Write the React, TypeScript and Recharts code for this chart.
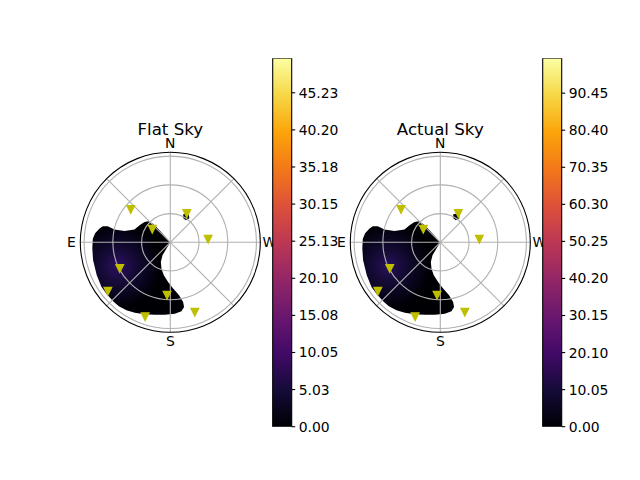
import React from 'react';
import {
  RadarChart,
  Radar,
  PolarGrid,
  PolarAngleAxis,
  PolarRadiusAxis,
  BarChart,
  Bar,
  XAxis,
  YAxis,
} from 'recharts';

// ---- data ----
const compassTicks = [0, 45, 90, 135, 180, 225, 270, 315];
const compassLabels: Record<number, string> = { 0: 'N', 90: 'E', 180: 'S', 270: 'W' };
const zenithRings = [30, 60, 90];
const zenithMax = 94;

// outline of the dark sky region (azimuth deg, zenith deg)
const skyRegion = [
  { az: 148.9, zen: 7.7 }, { az: 149.0, zen: 15.8 }, { az: 154.3, zen: 22.8 },
  { az: 161.5, zen: 29.0 }, { az: 168.9, zen: 35.1 }, { az: 176.8, zen: 41.5 },
  { az: 183.5, zen: 48.4 }, { az: 189.4, zen: 56.1 }, { az: 192.1, zen: 63.8 },
  { az: 192.0, zen: 69.1 }, { az: 189.2, zen: 73.0 }, { az: 183.6, zen: 74.8 },
  { az: 175.7, zen: 75.9 }, { az: 167.9, zen: 77.4 }, { az: 160.5, zen: 79.8 },
  { az: 153.3, zen: 82.4 }, { az: 147.2, zen: 84.5 }, { az: 141.2, zen: 85.8 },
  { az: 135.9, zen: 85.8 }, { az: 129.3, zen: 85.7 }, { az: 123.0, zen: 85.7 },
  { az: 114.2, zen: 84.2 }, { az: 103.1, zen: 82.8 }, { az: 94.4, zen: 81.7 },
  { az: 87.3, zen: 81.0 }, { az: 83.2, zen: 79.1 }, { az: 79.0, zen: 75.3 },
  { az: 76.7, zen: 72.4 }, { az: 75.6, zen: 67.4 }, { az: 77.2, zen: 59.8 },
  { az: 76.1, zen: 49.3 }, { az: 70.5, zen: 39.7 }, { az: 61.1, zen: 36.7 },
  { az: 51.8, zen: 34.3 }, { az: 46.1, zen: 31.6 }, { az: 43.1, zen: 26.7 },
  { az: 42.0, zen: 21.5 }, { az: 42.0, zen: 11.2 }, { az: 90.0, zen: 0 },
];

// small dark speck near one star
const skySpeck = [
  { az: 335.1, zen: 32.2 }, { az: 327.5, zen: 35.9 }, { az: 321.6, zen: 32.0 },
  { az: 324.8, zen: 28.1 }, { az: 331.6, zen: 28.5 },
];

const flatSkyStars = [
  { az: 50.4, zen: 53.6 }, { az: 330.1, zen: 34.6 }, { az: 54.2, zen: 23.2 },
  { az: 274.5, zen: 39.6 }, { az: 117.5, zen: 59.5 }, { az: 128.1, zen: 82.9 },
  { az: 176.5, zen: 55.5 }, { az: 161.3, zen: 82.1 }, { az: 199.3, zen: 77.5 },
];

const actualSkyStars = [
  { az: 50.2, zen: 53.4 }, { az: 327.9, zen: 35.4 }, { az: 52.6, zen: 22.4 },
  { az: 274.4, zen: 40.9 }, { az: 117.5, zen: 59.5 }, { az: 128.1, zen: 82.9 },
  { az: 176.5, zen: 55.5 }, { az: 161.3, zen: 82.1 }, { az: 199.3, zen: 77.5 },
];

const flatCbTicks = [0, 5.026, 10.051, 15.077, 20.102, 25.128, 30.154, 35.179, 40.205, 45.23];
const flatCbMax = 49.9;
const actualCbTicks = [0, 10.05, 20.1, 30.15, 40.2, 50.25, 60.3, 70.35, 80.4, 90.45];
const actualCbMax = 99.9;

const infernoStops = [
  '#000004', '#160b39', '#420a68', '#6a176e', '#932667', '#bc3754',
  '#dd513a', '#f37819', '#fca50a', '#f6d746', '#fcffa4',
];

// ---- styling ----
const FONT = 'DejaVu Sans';
const W = 640;
const H = 480;
const R = 90;

const layer: React.CSSProperties = { position: 'absolute', left: 0, top: 0, width: W, height: H };

const StarMarker = (props: any) => {
  const { cx, cy } = props;
  if (cx == null || cy == null || isNaN(cx) || isNaN(cy)) return null;
  const h = 3.9;
  return (
    <polygon
      points={`${cx - h},${cy - h} ${cx + h},${cy - h} ${cx},${cy + h}`}
      fill="#bfbf00"
      stroke="#bfbf00"
      strokeWidth={1.2}
    />
  );
};

const CompassTick = (props: any) => {
  const { x, y, payload } = props;
  const label = compassLabels[payload?.value];
  if (!label) return null;
  return (
    <text x={x} y={y} dy="0.36em" textAnchor="middle" fontSize={13.9} fontFamily={FONT} fill="#000">
      {label}
    </text>
  );
};

function PolarBase({ cx, cy, data, children, showAxes }: any) {
  return (
    <RadarChart
      width={W}
      height={H}
      cx={cx}
      cy={cy}
      outerRadius={R}
      innerRadius={0}
      startAngle={90}
      endAngle={450}
      data={data}
      margin={{ top: 0, right: 0, bottom: 0, left: 0 }}
    >
      {showAxes && (
        <PolarGrid gridType="circle" stroke="#b0b0b0" strokeWidth={1.1} />
      )}
      <PolarAngleAxis
        dataKey="az"
        type="number"
        domain={[0, 360]}
        ticks={compassTicks}
        tick={showAxes ? CompassTick : false}
        tickLine={false}
        tickSize={9}
        axisLine={showAxes ? { stroke: '#000', strokeWidth: 1.1 } : false}
        axisLineType="circle"
      />
      <PolarRadiusAxis
        type="number"
        domain={[0, zenithMax]}
        ticks={zenithRings}
        tick={false}
        axisLine={false}
        tickLine={false}
      />
      {children}
    </RadarChart>
  );
}

function SkyPlot({ cx, cy, stars, glowId }: any) {
  return (
    <>
      <div style={layer}>
        <PolarBase cx={cx} cy={cy} data={skyRegion}>
          <Radar
            dataKey="zen"
            fill={`url(#${glowId})`}
            fillOpacity={1}
            stroke="none"
            dot={false}
            isAnimationActive={false}
          />
        </PolarBase>
      </div>
      <div style={layer}>
        <PolarBase cx={cx} cy={cy} data={skySpeck}>
          <Radar dataKey="zen" fill="#000004" fillOpacity={1} stroke="none" dot={false} isAnimationActive={false} />
        </PolarBase>
      </div>
      <div style={layer}>
        <PolarBase cx={cx} cy={cy} data={stars} showAxes>
          <Radar
            dataKey="zen"
            fill="none"
            fillOpacity={0}
            stroke="none"
            dot={StarMarker}
            isAnimationActive={false}
          />
        </PolarBase>
      </div>
    </>
  );
}

function ColorBar({ left, max, ticks }: any) {
  const plotW = 19;
  const axisW = 60;
  return (
    <div style={layer}>
      <BarChart
        width={W}
        height={H}
        data={[{ name: 'cb', value: max }]}
        margin={{ left, top: 58.3, bottom: H - 426.7, right: W - left - plotW - axisW }}
        barCategoryGap={0}
        barGap={0}
      >
        <XAxis dataKey="name" type="category" hide />
        <YAxis
          orientation="right"
          type="number"
          domain={[0, max]}
          ticks={ticks}
          interval={0}
          width={axisW}
          allowDataOverflow
          axisLine={false}
          tickLine={{ stroke: '#000', strokeWidth: 1.1 }}
          tickSize={3.5}
          tickMargin={3.5}
          tick={{ fill: '#000', fontSize: 13.9, fontFamily: FONT }}
          tickFormatter={(v: number) => v.toFixed(2)}
        />
        <Bar dataKey="value" fill="url(#infernoCb)" stroke="#000" strokeWidth={1.1} isAnimationActive={false} />
      </BarChart>
    </div>
  );
}

export default function App() {
  return (
    <div style={{ ...layer, background: '#fff', overflow: 'hidden' }}>
      <svg width={0} height={0} style={{ position: 'absolute' }}>
        <defs>
          <linearGradient id="infernoCb" x1="0" y1="1" x2="0" y2="0">
            {infernoStops.map((c, i) => (
              <stop key={i} offset={`${i * 10}%`} stopColor={c} />
            ))}
          </linearGradient>
          <radialGradient id="glowFlat" gradientUnits="userSpaceOnUse" cx={118} cy={266} r={42}>
            <stop offset="0%" stopColor="#2c1262" />
            <stop offset="35%" stopColor="#180b3c" />
            <stop offset="75%" stopColor="#07041a" />
            <stop offset="100%" stopColor="#000004" />
          </radialGradient>
          <radialGradient id="glowActual" gradientUnits="userSpaceOnUse" cx={388} cy={266} r={42}>
            <stop offset="0%" stopColor="#28115c" />
            <stop offset="35%" stopColor="#160b38" />
            <stop offset="75%" stopColor="#070418" />
            <stop offset="100%" stopColor="#000004" />
          </radialGradient>
        </defs>
      </svg>
      <SkyPlot cx={170.3} cy={242.3} stars={flatSkyStars} glowId="glowFlat" />
      <SkyPlot cx={440.3} cy={242.3} stars={actualSkyStars} glowId="glowActual" />
      <ColorBar left={272.7} max={flatCbMax} ticks={flatCbTicks} />
      <ColorBar left={542.7} max={actualCbMax} ticks={actualCbTicks} />
      <svg width={W} height={H} style={{ position: 'absolute', left: 0, top: 0, pointerEvents: 'none' }}>
        <text x={170.3} y={135} textAnchor="middle" fontSize={16.67} fontFamily={FONT} fill="#000">
          Flat Sky
        </text>
        <text x={440.3} y={135} textAnchor="middle" fontSize={16.67} fontFamily={FONT} fill="#000">
          Actual Sky
        </text>
      </svg>
    </div>
  );
}
